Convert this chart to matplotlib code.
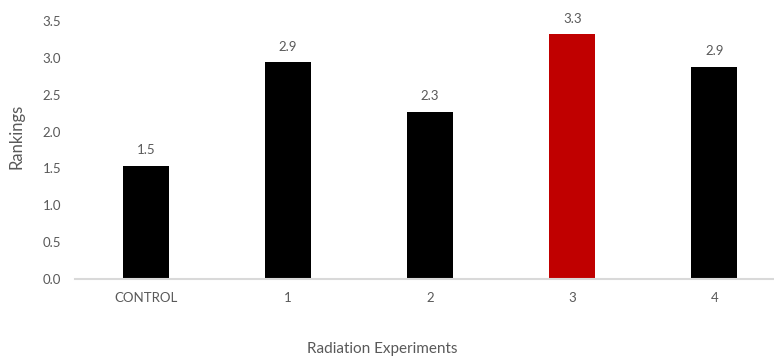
import matplotlib
matplotlib.use("Agg")
import matplotlib.pyplot as plt

categories = ["CONTROL", "1", "2", "3", "4"]
rankings = [1.53, 2.94, 2.27, 3.32, 2.88]
bar_colors = ["#000000", "#000000", "#000000", "#C00000", "#000000"]
y_ticks = [0.0, 0.5, 1.0, 1.5, 2.0, 2.5, 3.0, 3.5]

plt.rcParams["font.family"] = ["Lato", "DejaVu Sans"]
text_color = "#595959"

fig = plt.figure(figsize=(7.74, 3.58), dpi=100)
ax = fig.add_axes([75 / 774, 79 / 358, 1 - 75 / 774, (279 - 21) / 358])

x = list(range(len(categories)))
bars = ax.bar(x, rankings, width=0.325, color=bar_colors, zorder=2)

for b, v in zip(bars, rankings):
    ax.annotate(f"{v:.1f}", (b.get_x() + b.get_width() / 2, v),
                xytext=(0, 7), textcoords="offset points",
                ha="center", va="bottom", fontsize=9.5, color=text_color)

ax.set_xlim(-0.5, 4.42)
ax.set_ylim(0, 3.5)
ax.set_xticks(x)
ax.set_xticklabels(categories)
ax.set_yticks(y_ticks)
ax.set_yticklabels([f"{t:.1f}" for t in y_ticks])
ax.tick_params(axis="both", length=0, labelsize=9.5, labelcolor=text_color)
ax.tick_params(axis="y", pad=10)
ax.tick_params(axis="x", pad=9)

for side in ["top", "right", "left"]:
    ax.spines[side].set_visible(False)
ax.spines["bottom"].set_color("#d9d9d9")
ax.spines["bottom"].set_linewidth(1.5)

ax.set_ylabel("Rankings", fontsize=12, color=text_color, va="center")
ax.yaxis.set_label_coords(-0.084, 0.554)
fig.text(382 / 774, 1 - 349 / 358, "Radiation Experiments", fontsize=11,
         color=text_color, ha="center", va="center")

fig.savefig("out.png", dpi=100)
